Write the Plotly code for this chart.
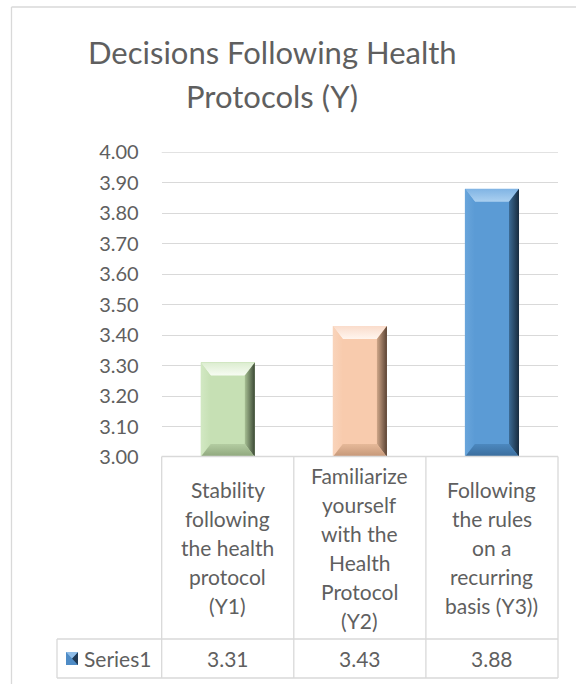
import plotly.graph_objects as go

# ---- data -------------------------------------------------------------
categories = [
    "Stability following the health protocol (Y1)",
    "Familiarize yourself with the Health Protocol (Y2)",
    "Following the rules on a recurring basis (Y3))",
]
category_lines = [
    ["Stability", "following", "the health", "protocol", "(Y1)"],
    ["Familiarize", "yourself", "with the", "Health", "Protocol", "(Y2)"],
    ["Following", "the rules", "on a", "recurring", "basis (Y3))"],
]
values = [3.31, 3.43, 3.88]
series_name = "Series1"
title_lines = ["Decisions Following Health", "Protocols (Y)"]
y_ticks = [3.0, 3.1, 3.2, 3.3, 3.4, 3.5, 3.6, 3.7, 3.8, 3.9, 4.0]

# ---- styling ----------------------------------------------------------
W, H = 576, 684
FONT = "Lato"
WEIGHT = 400
TXT = "#5f5f5f"
GRID = "#d9d9d9"

# per-bar colours: face, top (outer, inner), left, right (inner, outer), bottom (inner, outer)
palettes = [
    dict(face="#c6e0b4", top=("#dcedd0", "#f7fcf3"), left="#d2e8c3",
         right=("#a6bf93", "#3c4935"), bottom=("#b3cca1", "#8ea67c")),
    dict(face="#f8cbad", top=("#fadccb", "#fff5ee"), left="#f9d4bb",
         right=("#cfa688", "#5a4334"), bottom=("#e6b999", "#c49677")),
    dict(face="#5b9bd5", top=("#80b4e4", "#abd0f0"), left="#69a5db",
         right=("#3b6a94", "#182b3e"), bottom=("#4c88bf", "#3a6c9b")),
]

Y0, Y1 = 3.0, 4.0
plot_left, plot_right = 161.7, 558.0
plot_top, plot_bottom = 152.3, 457.0


def px(x):
    return x / W


def py(y):
    return 1 - y / H


def tfont(size):
    return dict(family=FONT, size=size, color=TXT, weight=WEIGHT)


bar_w = 0.41
px_per_cat = (plot_right - plot_left) / 3
px_per_val = (plot_bottom - plot_top) / (Y1 - Y0)
dx = 10 / px_per_cat
dy = 13 / px_per_val

fig = go.Figure()

xs = list(range(len(values)))
fig.add_trace(go.Bar(
    x=xs, y=values, width=bar_w, name=series_name,
    marker=dict(color=[p["face"] for p in palettes], line=dict(width=0)),
    showlegend=False, hoverinfo="y",
))


def facet(xp, yp, colors, orient):
    fig.add_trace(go.Scatter(
        x=xp + [xp[0]], y=yp + [yp[0]], mode="lines", fill="toself",
        line=dict(width=0), hoverinfo="skip", showlegend=False,
        fillgradient=dict(type=orient,
                          colorscale=[[0, colors[0]], [1, colors[1]]]),
    ))


for i, (v, pal) in enumerate(zip(values, palettes)):
    l, r = i - bar_w / 2, i + bar_w / 2
    # top bevel: light, brightening toward the inner edge
    facet([l, r, r - dx, l + dx], [v, v, v - dy, v - dy],
          (pal["top"][1], pal["top"][0]), "vertical")
    # left bevel
    facet([l, l + dx, l + dx, l], [Y0, Y0 + dy, v - dy, v],
          (pal["left"], pal["face"]), "horizontal")
    # right bevel: darkening toward the outer edge
    facet([r - dx, r, r, r - dx], [Y0 + dy, Y0, v, v - dy],
          (pal["right"][0], pal["right"][1]), "horizontal")
    # bottom bevel
    facet([l, r, r - dx, l + dx], [Y0, Y0, Y0 + dy, Y0 + dy],
          (pal["bottom"][1], pal["bottom"][0]), "vertical")

shapes = []
line = dict(color=GRID, width=1.3)
# outer chart border
shapes.append(dict(type="line", xref="paper", yref="paper",
                   x0=px(11.5), x1=px(11.5), y0=py(7), y1=0, line=line))
shapes.append(dict(type="line", xref="paper", yref="paper",
                   x0=px(11.5), x1=1, y0=py(7), y1=py(7), line=line))
# top gridline at 4.00
shapes.append(dict(type="line", xref="paper", yref="y",
                   x0=px(plot_left), x1=px(plot_right), y0=Y1, y1=Y1, line=line))
# data table grid
col_edges = [plot_left, plot_left + px_per_cat, plot_left + 2 * px_per_cat, plot_right]
table_top, row_mid, table_bottom, row_left = 456.5, 639.0, 678.0, 57.0
for xe in col_edges:
    shapes.append(dict(type="line", xref="paper", yref="paper",
                       x0=px(xe), x1=px(xe), y0=py(table_top), y1=py(table_bottom), line=line))
for ye in (row_mid, table_bottom):
    shapes.append(dict(type="line", xref="paper", yref="paper",
                       x0=px(row_left), x1=px(plot_right), y0=py(ye), y1=py(ye), line=line))
shapes.append(dict(type="line", xref="paper", yref="paper",
                   x0=px(row_left), x1=px(row_left), y0=py(row_mid), y1=py(table_bottom), line=line))
shapes.append(dict(type="line", xref="paper", yref="paper",
                   x0=px(plot_left), x1=px(plot_right), y0=py(table_top), y1=py(table_top), line=line))

# legend key (small bevelled square)
kx0, kx1, ky0, ky1 = 66, 78, 652, 665
shapes.append(dict(type="rect", xref="paper", yref="paper",
                   x0=px(kx0), x1=px(kx1), y0=py(ky1), y1=py(ky0),
                   fillcolor="#4f8cc6", line=dict(width=0)))
shapes.append(dict(type="path", xref="paper", yref="paper",
                   path=f"M {px(kx1)},{py(ky0)} L {px(kx1)},{py(ky1)} L {px(kx0 + 6)},{py(ky0 + 6.5)} Z",
                   fillcolor="#1f3a56", line=dict(width=0)))
shapes.append(dict(type="path", xref="paper", yref="paper",
                   path=f"M {px(kx0)},{py(ky0)} L {px(kx1)},{py(ky0)} L {px(kx0 + 6)},{py(ky0 + 6.5)} Z",
                   fillcolor="#8fbde8", line=dict(width=0)))

annotations = []
# title
for j, (t, yc) in enumerate(zip(title_lines, (52.0, 96.0))):
    annotations.append(dict(text=t, xref="paper", yref="paper", x=px(272), y=py(yc),
                            xanchor="center", yanchor="middle", showarrow=False,
                            font=tfont(31)))
# category labels inside the data table
cell_mid = (table_top + row_mid) / 2
step = 29
for i, lines in enumerate(category_lines):
    n = len(lines)
    for k, t in enumerate(lines):
        yc = cell_mid + (k - (n - 1) / 2) * step
        annotations.append(dict(text=t, xref="x", yref="paper", x=i, y=py(yc),
                                xanchor="center", yanchor="middle", showarrow=False,
                                font=tfont(21)))
# value row
val_mid = (row_mid + table_bottom) / 2
for i, v in enumerate(values):
    annotations.append(dict(text=f"{v:.2f}", xref="x", yref="paper", x=i, y=py(val_mid),
                            xanchor="center", yanchor="middle", showarrow=False,
                            font=tfont(21)))
annotations.append(dict(text=series_name, xref="paper", yref="paper", x=px(82), y=py(val_mid),
                        xanchor="left", yanchor="middle", showarrow=False,
                        font=tfont(21)))

fig.update_layout(
    width=W, height=H, margin=dict(l=0, r=0, t=0, b=0, autoexpand=False),
    paper_bgcolor="white", plot_bgcolor="white",
    font=dict(family=FONT, color=TXT, weight=WEIGHT),
    bargap=0, showlegend=False,
    shapes=shapes, annotations=annotations,
    xaxis=dict(domain=[px(plot_left), px(plot_right)], range=[-0.5, 2.5],
               showticklabels=False, showgrid=False, zeroline=False, fixedrange=True),
    yaxis=dict(domain=[py(plot_bottom), py(plot_top)], range=[Y0, Y1],
               tickvals=y_ticks, tickformat=".2f", showgrid=True, gridcolor=GRID,
               gridwidth=1.3, zeroline=False, showline=False, ticks="",
               ticklabelstandoff=22, tickfont=tfont(20),
               fixedrange=True),
)

fig.write_html("out.html")
